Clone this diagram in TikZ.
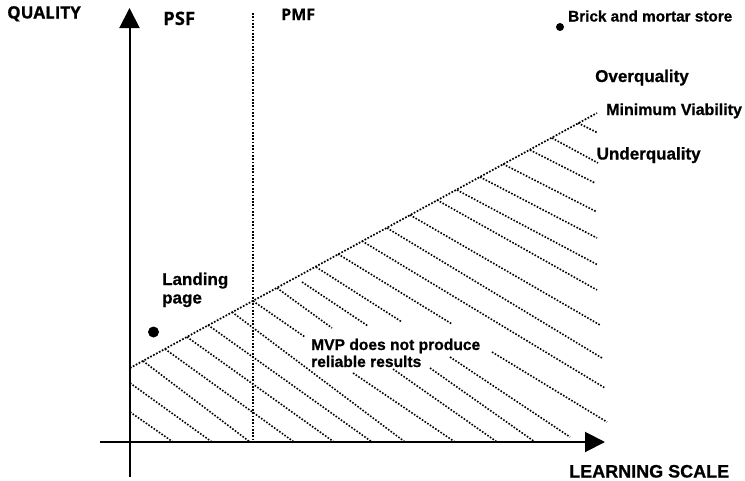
\documentclass[tikz,border=0pt]{standalone}
\usepackage{fontspec}
\setsansfont{Liberation Sans}[BoldFeatures={FakeBold=0.8}]
\newfontfamily\osans{Open Sans}[BoldFeatures={FakeBold=0.5}]
\usetikzlibrary{arrows.meta}
\begin{document}
\begin{tikzpicture}[x=1pt,y=-1pt,
  axis/.style={line width=2pt,-{Triangle[length=20pt,width=20pt]}},
  dotline/.style={line width=1.7pt,dash pattern=on 1.7pt off 1.6pt},
  hatch/.style={line width=1.6pt,dash pattern=on 1.6pt off 1.6pt},
  lab/.style={font=\sffamily\bfseries, inner sep=0pt, anchor=base west},
  olab/.style={font=\osans\bfseries, inner sep=0pt, anchor=base west},
  pt/.style={circle, fill=black, inner sep=0pt}]
\useasboundingbox (0,0) rectangle (745,480);
% axes
\coordinate (yb) at (129.5,477);
\coordinate (yt) at (129.5,8);
\coordinate (xl) at (100,442);
\coordinate (xr) at (605,442);
\draw[axis] (yb) -- (yt);
\draw[axis] (xl) -- (xr);
% PMF line
\coordinate (pmft) at (253,13);
\coordinate (pmfb) at (253,442);
\draw[dotline] (pmft) -- (pmfb);
% minimum viability line
\coordinate (mvl) at (130,368);
\coordinate (mvr) at (597,113);
\draw[dotline] (mvl) -- (mvr);
% hatching
\foreach \a/\b/\c/\d in {
  130/412/173/442, 130/383/212/442, 143/361/250/442, 165/349/294/442,
  187/337/334/442, 208/325/372/442, 232/312/405/442,
  253/301/305/337, 353/373/455/442,
  277/288/332/328, 393/369/497/442,
  302/282/368/326, 430/368/535/442,
  316/267/402/322, 450/357/570/437,
  338/254/452/324, 492/352/607/422,
  362/241/605/388, 387/228/602/358, 410/215/600/325, 437/200/597/290,
  457/190/598/265, 480/177/597/238, 503/164/597/212, 530/150/595/183,
  552/138/598/163, 578/123/598/133}
  \draw[hatch] (\a,\b) -- (\c,\d);
% points
\node[pt, minimum size=8pt] (brickdot) at (560,27) {};
\node[pt, minimum size=11pt] (landdot) at (153.5,332) {};
% labels
\node[olab, font=\osans\bfseries\fontsize{17}{20}\selectfont] (quality) at (7,18.5) {QUALITY};
\node[olab, font=\osans\bfseries\fontsize{18.5}{20}\selectfont] (psf) at (163,25) {PSF};
\node[olab, font=\osans\bfseries\fontsize{16}{20}\selectfont] (pmf) at (281,20) {PMF};
\node[lab, font=\sffamily\bfseries\fontsize{15.3}{18}\selectfont] (brick) at (568,21.5) {Brick and mortar store};
\node[lab, font=\sffamily\bfseries\fontsize{17}{20}\selectfont] (over) at (595,82) {Overquality};
\node[lab, font=\sffamily\bfseries\fontsize{16}{20}\selectfont] (minv) at (606,115) {Minimum Viability};
\node[lab, font=\sffamily\bfseries\fontsize{17}{20}\selectfont] (under) at (596.5,159.5) {Underquality};
\node[lab, align=left, font=\sffamily\bfseries\fontsize{17}{18.5}\selectfont] (landing) at (162,303.5) {Landing\\page};
\node[lab, align=left, font=\sffamily\bfseries\fontsize{15.6}{17}\selectfont] (mvp) at (311,367) {MVP does not produce\\reliable results};
\node[lab, font=\sffamily\bfseries\fontsize{18}{20}\selectfont] (learn) at (569,477.5) {LEARNING SCALE};
\end{tikzpicture}
\end{document}
